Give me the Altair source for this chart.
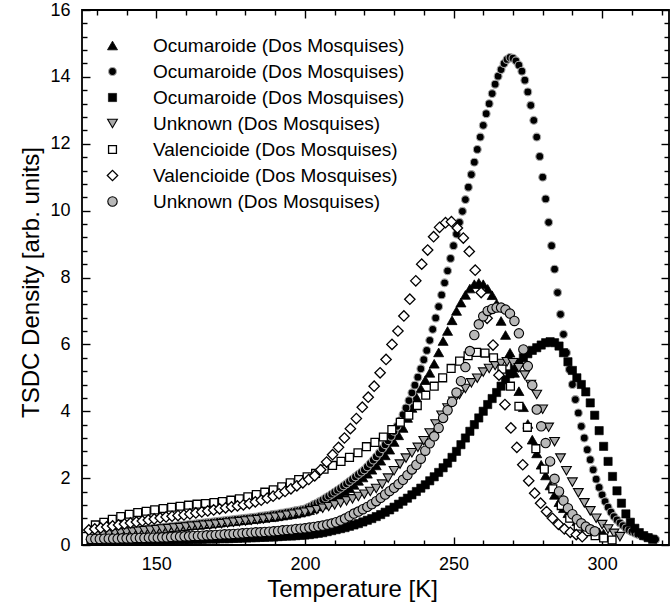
import altair as alt
import pandas as pd

# ---------------- data ----------------
NAMES = ["Ocumaroide (Dos Mosquises)", "Ocumaroide (Dos Mosquises)", "Ocumaroide (Dos Mosquises)",
         "Unknown (Dos Mosquises)", "Valencioide (Dos Mosquises)", "Valencioide (Dos Mosquises)",
         "Unknown (Dos Mosquises)"]
SHAPES = ["triangle-up", "circle", "square", "triangle-down", "square", "diamond", "circle"]
FILLS = ["#000000", "#000000", "#000000", "#a9a9a9", "#ffffff", "#ffffff", "#b8b8b8"]
STROKES = ["#000000", "#a8a8a8", "#000000", "#000000", "#000000", "#000000", "#000000"]
SIZES = [100, 62, 68, 95, 62, 108, 88]
STROKE_W = [0.8, 1.1, 0.6, 1.1, 1.3, 1.3, 1.1]

# first temperature and sampling step of each series [K]
T_START = [128, 128, 128, 128, 129.5, 127.3, 128]
T_STEP = [1.5, 1.0, 1.5, 2.0, 2.85, 2.0, 1.5]

Y1 = [0.28, 0.29, 0.31, 0.32, 0.33, 0.35, 0.36, 0.37, 0.39, 0.40,
      0.41, 0.43, 0.44, 0.45, 0.47, 0.48, 0.50, 0.51, 0.52, 0.54,
      0.55, 0.56, 0.58, 0.59, 0.60, 0.62, 0.63, 0.64, 0.66, 0.67,
      0.69, 0.70, 0.71, 0.73, 0.74, 0.75, 0.77, 0.78, 0.80, 0.81,
      0.83, 0.84, 0.86, 0.88, 0.90, 0.92, 0.94, 0.97, 1.00, 1.04,
      1.09, 1.15, 1.21, 1.28, 1.36, 1.44, 1.52, 1.61, 1.70, 1.80,
      1.92, 2.02, 2.13, 2.25, 2.38, 2.52, 2.68, 2.85, 3.08, 3.28,
      3.50, 3.80, 4.10, 4.42, 4.68, 4.93, 5.15, 5.42, 5.76, 6.10,
      6.40, 6.72, 7.00, 7.25, 7.48, 7.67, 7.80, 7.84, 7.80, 7.66,
      7.47, 7.22, 6.70, 6.28, 5.75, 5.15, 4.60, 4.12, 3.62, 3.15,
      2.74, 2.40, 2.08, 1.78, 1.50, 1.28, 1.10, 0.95, 0.82, 0.71,
      0.60, 0.53, 0.47, 0.42, 0.38, 0.34]

Y2 = [0.30, 0.31, 0.32, 0.32, 0.33, 0.34, 0.35, 0.36, 0.37, 0.37, 0.38, 0.39,
      0.40, 0.41, 0.42, 0.43, 0.44, 0.45, 0.46, 0.47, 0.48, 0.49,
      0.50, 0.51, 0.52, 0.53, 0.54, 0.55, 0.56, 0.57, 0.58, 0.59,
      0.60, 0.61, 0.62, 0.63, 0.64, 0.65, 0.66, 0.67, 0.68, 0.69,
      0.70, 0.71, 0.72, 0.73, 0.74, 0.75, 0.76, 0.77, 0.78, 0.79,
      0.80, 0.81, 0.82, 0.83, 0.84, 0.86, 0.87, 0.88, 0.89, 0.91,
      0.92, 0.93, 0.95, 0.96, 0.98, 0.99, 1.01, 1.03, 1.04, 1.06,
      1.08, 1.12, 1.16, 1.21, 1.25, 1.30, 1.35, 1.41, 1.46, 1.52,
      1.58, 1.64, 1.70, 1.77, 1.83, 1.90, 1.97, 2.04, 2.11, 2.18,
      2.25, 2.34, 2.44, 2.54, 2.64, 2.75, 2.88, 3.00, 3.12, 3.25,
      3.40, 3.55, 3.72, 3.90, 4.10, 4.32, 4.55, 4.78, 5.02, 5.27,
      5.54, 5.82, 6.12, 6.45, 6.79, 7.13, 7.48, 7.84, 8.20, 8.57,
      8.95, 9.30, 9.65, 9.98, 10.33, 10.70, 11.08, 11.45, 11.83, 12.20,
      12.55, 12.90, 13.20, 13.50, 13.78, 14.02, 14.22, 14.40, 14.52, 14.58,
      14.56, 14.48, 14.35, 14.17, 13.90, 13.55, 13.15, 12.70, 12.20, 11.62,
      11.00, 10.35, 9.65, 8.95, 8.25, 7.55, 6.90, 6.30, 5.75, 5.25,
      4.80, 4.35, 3.95, 3.55, 3.20, 2.85, 2.55, 2.25, 1.97, 1.72,
      1.50, 1.30, 1.13, 0.98, 0.85, 0.75, 0.66, 0.58, 0.51, 0.45,
      0.40, 0.36, 0.32, 0.29, 0.26, 0.23, 0.21, 0.19, 0.17]

Y3 = [0.12, 0.12, 0.12, 0.12, 0.12, 0.13, 0.13, 0.13, 0.13, 0.13,
      0.13, 0.14, 0.14, 0.14, 0.14, 0.14, 0.15, 0.15, 0.15, 0.16,
      0.16, 0.16, 0.16, 0.17, 0.17, 0.17, 0.18, 0.18, 0.18, 0.19,
      0.19, 0.19, 0.20, 0.20, 0.21, 0.21, 0.22, 0.22, 0.23, 0.23,
      0.24, 0.24, 0.25, 0.26, 0.27, 0.27, 0.28, 0.29, 0.30, 0.31,
      0.33, 0.35, 0.37, 0.40, 0.43, 0.46, 0.49, 0.52, 0.56, 0.60,
      0.64, 0.69, 0.74, 0.79, 0.85, 0.91, 0.98, 1.05, 1.13, 1.22,
      1.31, 1.40, 1.50, 1.60, 1.70, 1.80, 1.92, 2.04, 2.17, 2.31,
      2.45, 2.62, 2.80, 3.00, 3.20, 3.40, 3.60, 3.80, 4.00, 4.20,
      4.38, 4.56, 4.75, 4.94, 5.12, 5.30, 5.46, 5.60, 5.72, 5.82,
      5.90, 5.98, 6.05, 6.08, 6.05, 5.95, 5.75, 5.48, 5.22, 5.00,
      4.80, 4.58, 4.25, 3.88, 3.42, 2.95, 2.50, 2.05, 1.62, 1.25,
      0.93, 0.68, 0.50, 0.37, 0.28, 0.22, 0.17]

Y4 = [0.28, 0.30, 0.31, 0.33, 0.35, 0.36, 0.38, 0.39, 0.41, 0.43,
      0.44, 0.46, 0.48, 0.49, 0.51, 0.52, 0.54, 0.56, 0.57, 0.59,
      0.60, 0.62, 0.64, 0.66, 0.68, 0.70, 0.72, 0.74, 0.76, 0.78,
      0.81, 0.83, 0.86, 0.89, 0.92, 0.95, 0.98, 1.02, 1.06, 1.10,
      1.15, 1.20, 1.26, 1.32, 1.38, 1.45, 1.52, 1.60, 1.69, 1.82,
      2.00, 2.22, 2.42, 2.60, 2.76, 2.92, 3.12, 3.35, 3.62, 3.88,
      4.10, 4.30, 4.50, 4.68, 4.85, 4.99, 5.17, 5.28, 5.37, 5.43,
      5.48, 5.45, 5.30, 5.08, 4.80, 4.50, 4.06, 3.52, 3.09, 2.60,
      2.22, 1.88, 1.56, 1.26, 1.02, 0.80, 0.61, 0.48, 0.35, 0.25]

Y5 = [0.60, 0.68, 0.77, 0.85, 0.92, 0.97, 1.01, 1.05, 1.09, 1.13,
      1.16, 1.19, 1.22, 1.24, 1.27, 1.30, 1.34, 1.38, 1.44, 1.51,
      1.58, 1.65, 1.74, 1.86, 1.96, 2.04, 2.14, 2.27, 2.38, 2.50,
      2.62, 2.76, 2.94, 3.07, 3.23, 3.45, 3.67, 3.88, 4.17, 4.48,
      4.75, 5.00, 5.28, 5.50, 5.66, 5.76, 5.74, 5.60, 5.26, 4.75,
      4.15, 3.52, 2.88, 2.27, 1.68, 1.18, 0.80, 0.56, 0.40, 0.28,
      0.21, 0.15]

Y6 = [0.45, 0.48, 0.51, 0.54, 0.57, 0.60, 0.63, 0.66, 0.69, 0.72,
      0.75, 0.78, 0.81, 0.84, 0.86, 0.88, 0.90, 0.93, 0.96, 0.99,
      1.02, 1.05, 1.08, 1.11, 1.14, 1.17, 1.20, 1.24, 1.29, 1.34,
      1.40, 1.46, 1.53, 1.60, 1.68, 1.77, 1.86, 1.96, 2.07, 2.25,
      2.48, 2.70, 2.92, 3.20, 3.48, 3.78, 4.12, 4.42, 4.75, 5.15,
      5.55, 6.00, 6.40, 6.85, 7.35, 7.90, 8.40, 8.82, 9.22, 9.50,
      9.64, 9.67, 9.48, 9.18, 8.78, 8.22, 7.55, 6.78, 5.98, 5.08,
      4.20, 3.50, 2.92, 2.40, 1.92, 1.55, 1.25, 1.00, 0.80, 0.62,
      0.48, 0.38, 0.31, 0.25]

Y7 = [0.18, 0.18, 0.18, 0.19, 0.19, 0.19, 0.19, 0.20, 0.20, 0.20,
      0.21, 0.21, 0.21, 0.22, 0.22, 0.22, 0.23, 0.23, 0.24, 0.25,
      0.25, 0.26, 0.26, 0.27, 0.27, 0.28, 0.29, 0.29, 0.30, 0.31,
      0.32, 0.32, 0.33, 0.34, 0.35, 0.36, 0.37, 0.38, 0.38, 0.39,
      0.40, 0.41, 0.42, 0.44, 0.45, 0.46, 0.48, 0.49, 0.50, 0.52,
      0.54, 0.56, 0.58, 0.61, 0.64, 0.68, 0.73, 0.79, 0.86, 0.94,
      1.00, 1.07, 1.14, 1.22, 1.31, 1.41, 1.51, 1.61, 1.71, 1.82,
      1.95, 2.09, 2.26, 2.40, 2.58, 2.82, 3.04, 3.25, 3.50, 3.80,
      4.03, 4.28, 4.56, 4.90, 5.32, 5.80, 6.28, 6.60, 6.84, 7.00,
      7.06, 7.10, 7.10, 7.04, 6.92, 6.70, 6.33, 5.85, 5.35, 4.78,
      4.05, 3.55, 3.05, 2.50, 1.98, 1.60, 1.33, 1.10, 0.92, 0.77,
      0.65, 0.55, 0.47, 0.41]

SERIES = [Y1, Y2, Y3, Y4, Y5, Y6, Y7]

X_MAJOR = [150, 200, 250, 300]
X_MINOR = [130, 140, 160, 170, 180, 190, 210, 220, 230, 240, 260, 270, 280, 290, 310, 320]
Y_MAJOR = [0, 2, 4, 6, 8, 10, 12, 14, 16]
Y_MINOR = [0.4, 0.8, 1.2, 1.6, 2.4, 2.8, 3.2, 3.6, 4.4, 4.8, 5.2, 5.6, 6.4, 6.8, 7.2, 7.6,
           8.4, 8.8, 9.2, 9.6, 10.4, 10.8, 11.2, 11.6, 12.4, 12.8, 13.2, 13.6, 14.4, 14.8,
           15.2, 15.6]

# ---------------- build table ----------------
KEYS = [f"{i + 1} {n}" for i, n in enumerate(NAMES)]
rows = []
for k, ys, t0, dt in zip(KEYS, SERIES, T_START, T_STEP):
    for i, v in enumerate(ys):
        rows.append({"T": round(t0 + dt * i, 3), "D": v, "series": k})
df = pd.DataFrame(rows)
dummy = pd.DataFrame({"T": [200.0], "D": [1.0]})

FONT = "Liberation Sans"
xs = alt.Scale(domain=[125, 322.5], nice=False, zero=False)
ys_ = alt.Scale(domain=[0, 16], nice=False, zero=False)

MAJ, MIN = 8, 5


def ax(orient, values, size, labels=False, **kw):
    return alt.Axis(orient=orient, values=values, offset=-size, tickSize=size, domain=False,
                    grid=False, labels=labels, tickColor="black", tickWidth=1.4,
                    labelFont=FONT, labelFontSize=18, labelColor="black",
                    titleFont=FONT, titleColor="black", **kw)


leg = alt.Legend(orient="none", legendX=21, legendY=26, labelExpr="substring(datum.label, 2)",
                 labelFont=FONT, labelFontSize=19, labelColor="black", labelOffset=31,
                 rowPadding=6, padding=0, labelLimit=400)

main = alt.Chart(df).mark_point(filled=True, opacity=1).encode(
    x=alt.X("T:Q", scale=xs,
            axis=ax("bottom", X_MAJOR, MAJ, labels=True, labelPadding=10, labelFlush=False,
                    title="Temperature [K]", titleFontSize=24, titlePadding=4,
                    titleX=270, titleFontWeight="normal")),
    y=alt.Y("D:Q", scale=ys_,
            axis=ax("left", Y_MAJOR, MAJ, labels=True, labelPadding=12, labelFlush=False,
                    title="TSDC Density [arb. units]", titleFontSize=24, titleX=-59,
                    titleY=272, titleAngle=-90, titleAlign="center", titleBaseline="middle",
                    titleFontWeight="normal")),
    shape=alt.Shape("series:N", scale=alt.Scale(domain=KEYS, range=SHAPES), legend=leg, title=None),
    fill=alt.Fill("series:N", scale=alt.Scale(domain=KEYS, range=FILLS), legend=leg, title=None),
    stroke=alt.Stroke("series:N", scale=alt.Scale(domain=KEYS, range=STROKES), legend=leg, title=None),
    size=alt.Size("series:N", scale=alt.Scale(type="ordinal", domain=KEYS, range=SIZES),
                  legend=leg, title=None),
    strokeWidth=alt.StrokeWidth("series:N",
                                scale=alt.Scale(type="ordinal", domain=KEYS, range=STROKE_W),
                                legend=leg, title=None),
)


def axis_layer(xaxis, yaxis):
    return alt.Chart(dummy).mark_point(opacity=0).encode(
        x=alt.X("T:Q", scale=xs, axis=xaxis),
        y=alt.Y("D:Q", scale=ys_, axis=yaxis),
    )


l2 = axis_layer(ax("bottom", X_MINOR, MIN, title=None), ax("left", Y_MINOR, MIN, title=None))
l3 = axis_layer(ax("top", X_MAJOR, MAJ, title=None), ax("right", Y_MAJOR, MAJ, title=None))
l4 = axis_layer(ax("top", X_MINOR, MIN, title=None), ax("right", Y_MINOR, MIN, title=None))

chart = alt.layer(main, l2, l3, l4).resolve_axis(x="independent", y="independent").properties(
    width=587, height=535,
    background="white",
    autosize=alt.AutoSizeParams(type="none"),
    padding={"left": 82, "top": 10, "right": 1, "bottom": 64},
).configure_view(stroke="black", strokeWidth=1.8)

chart.save("out.html", embed_options={"renderer": "svg", "actions": False})
